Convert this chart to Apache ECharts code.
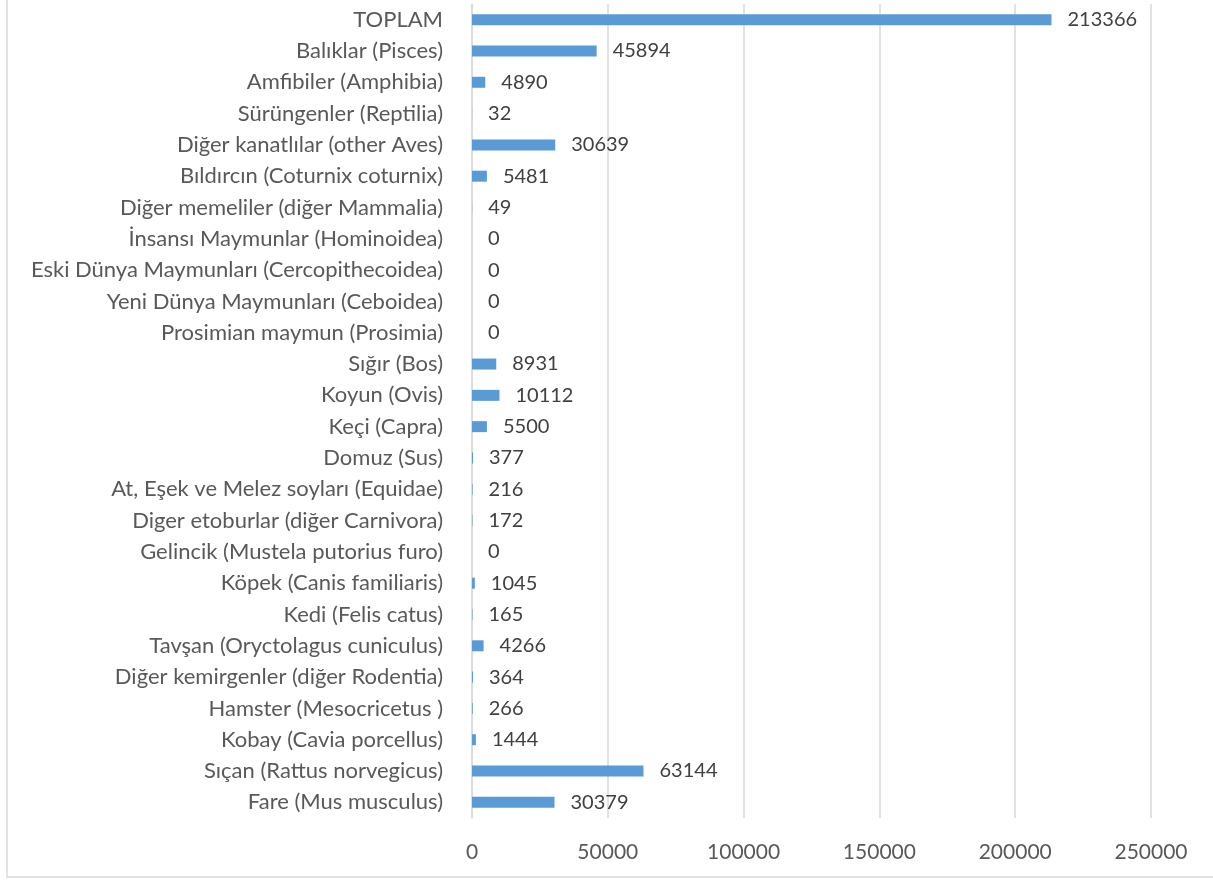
<!DOCTYPE html>
<html>
<head>
<meta charset="utf-8">
<script src="https://cdn.jsdelivr.net/npm/echarts@6/dist/echarts.min.js"></script>
<style>
  html, body { margin: 0; padding: 0; background: #fff; }
  #main { width: 1213px; height: 880px; }
</style>
</head>
<body>
<div id="main"></div>
<script>
// kategoriler (alttan üste)
const categories = [
  'Fare (Mus musculus)',
  'Sıçan (Rattus norvegicus)',
  'Kobay (Cavia porcellus)',
  'Hamster (Mesocricetus )',
  'Diğer kemirgenler (diğer Rodentia)',
  'Tavşan (Oryctolagus cuniculus)',
  'Kedi (Felis catus)',
  'Köpek (Canis familiaris)',
  'Gelincik (Mustela putorius furo)',
  'Diger etoburlar (diğer Carnivora)',
  'At, Eşek ve Melez soyları (Equidae)',
  'Domuz (Sus)',
  'Keçi (Capra)',
  'Koyun (Ovis)',
  'Sığır (Bos)',
  'Prosimian maymun (Prosimia)',
  'Yeni Dünya Maymunları (Ceboidea)',
  'Eski Dünya Maymunları (Cercopithecoidea)',
  'İnsansı Maymunlar (Hominoidea)',
  'Diğer memeliler (diğer Mammalia)',
  'Bıldırcın (Coturnix coturnix)',
  'Diğer kanatlılar (other Aves)',
  'Sürüngenler (Reptilia)',
  'Amfibiler (Amphibia)',
  'Balıklar (Pisces)',
  'TOPLAM'
];
const values = [
  30379, 63144, 1444, 266, 364, 4266, 165, 1045, 0, 172, 216, 377, 5500,
  10112, 8931, 0, 0, 0, 0, 49, 5481, 30639, 32, 4890, 45894, 213366
];
const xTicks = [0, 50000, 100000, 150000, 200000, 250000];

const fontName = 'Lato';
const myChart = echarts.init(document.getElementById('main'));
myChart.setOption({
  animation: false,
  grid: {
    left: 472,
    right: 62,
    top: 4,
    bottom: 62,
    containLabel: false,
  },
  xAxis: {
    type: 'value',
    min: xTicks[0],
    max: xTicks[xTicks.length - 1],
    interval: 50000,
    axisLine: { show: false },
    axisTick: { show: false },
    axisLabel: {
      color: '#595959',
      fontSize: 21,
      fontFamily: fontName,
      margin: 24,
      formatter: (v) => String(v),
    },
    splitLine: { lineStyle: { color: '#d9d9d9', width: 1.5 } },
  },
  yAxis: {
    type: 'category',
    data: categories,
    axisLine: { show: true, lineStyle: { color: '#d9d9d9', width: 1.5 } },
    axisTick: { show: false },
    axisLabel: {
      color: '#595959',
      fontSize: 22,
      fontFamily: fontName,
      margin: 29,
    },
  },
  series: [
    {
      type: 'bar',
      data: values,
      barWidth: 11,
      itemStyle: { color: '#5b9bd5' },
      label: {
        show: true,
        position: 'right',
        distance: 16,
        color: '#404040',
        fontSize: 20,
        fontFamily: fontName,
      },
    },
  ],
  graphic: [
    {
      type: 'polyline',
      shape: { points: [[7, 0], [7, 877], [1213, 877]] },
      style: { fill: 'none', stroke: '#d9d9d9', lineWidth: 1.5 },
      silent: true,
    },
  ],
});
</script>
</body>
</html>
